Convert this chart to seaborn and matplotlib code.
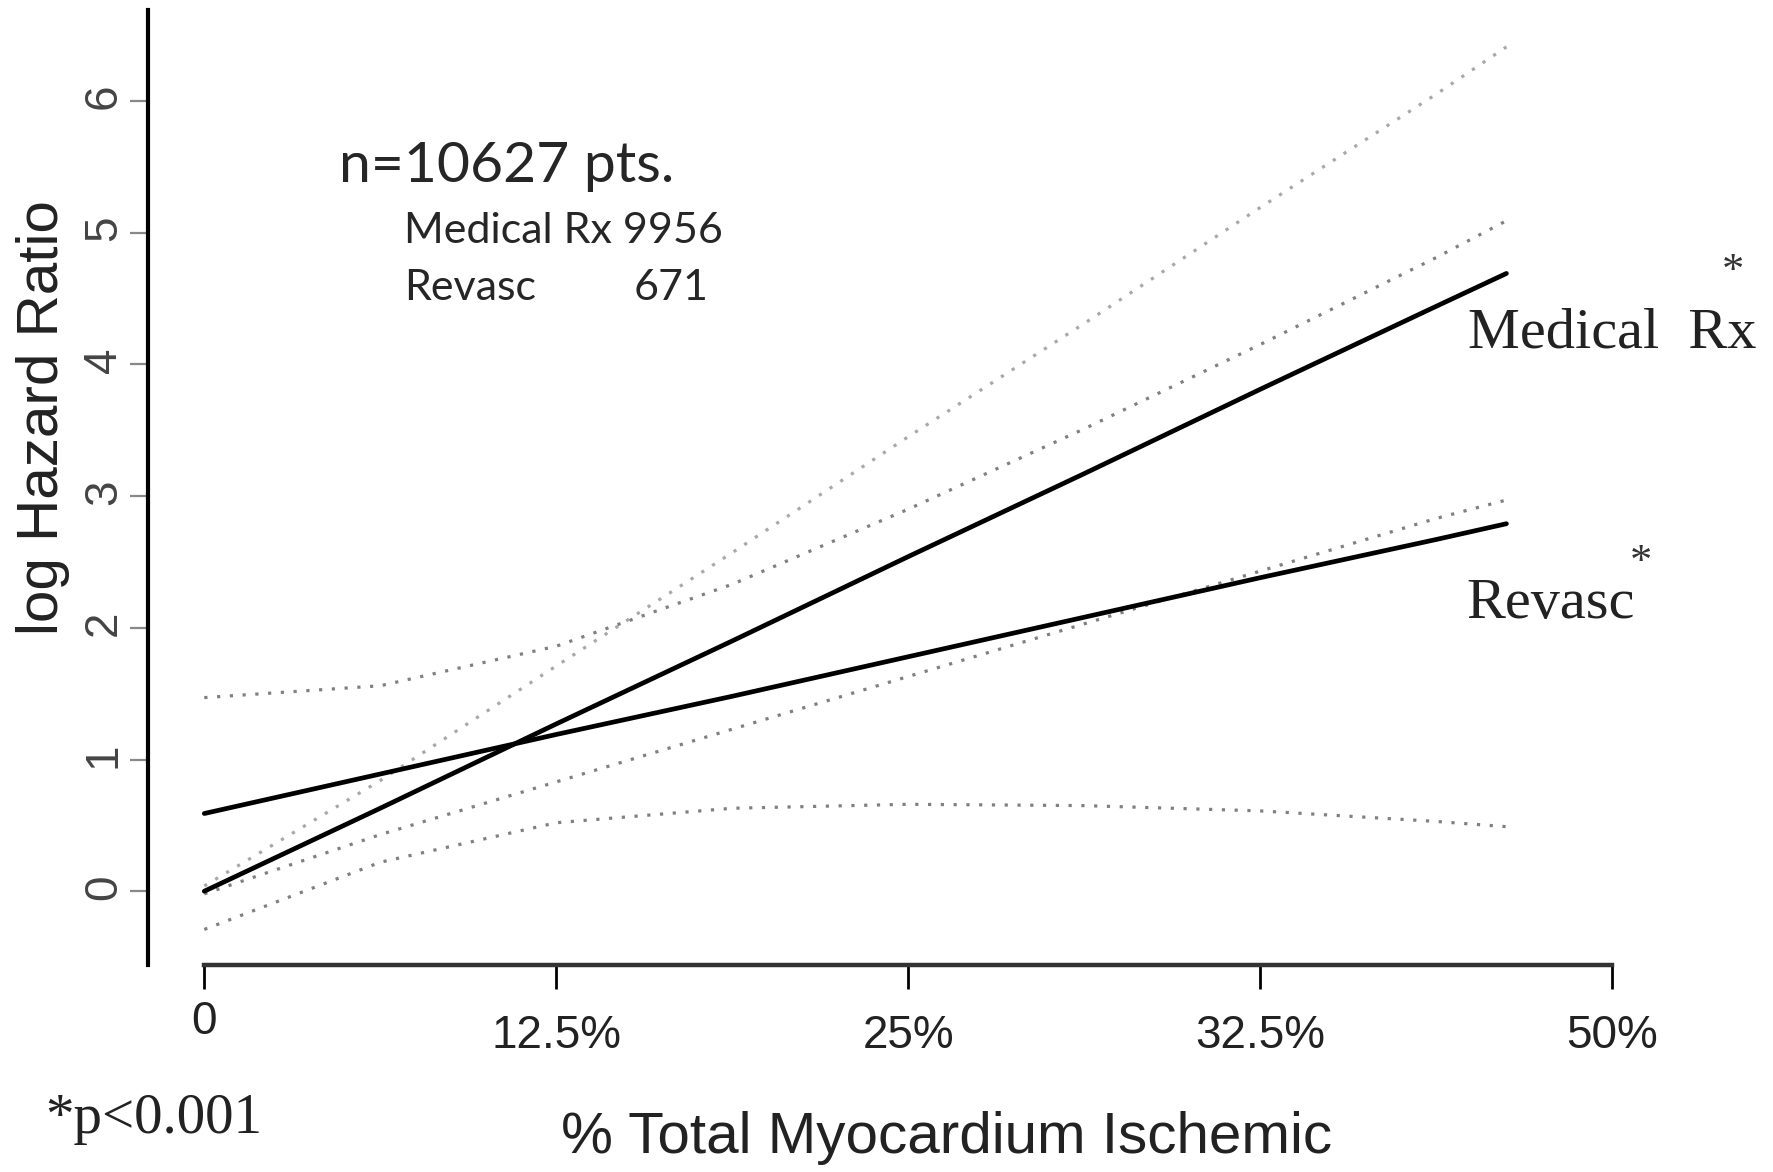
import numpy as np
import pandas as pd
import seaborn as sns
import matplotlib
matplotlib.use("Agg")
import matplotlib.pyplot as plt
from matplotlib.transforms import ScaledTranslation

# x positions are in tick units (0 .. 4 -> "0" .. "50%")
x_pos = [0, 0.5, 1, 1.5, 2, 2.5, 3, 3.5, 3.7]
tick_pos = [0, 1, 2, 3, 4]
tick_labels = ["0", "12.5%", "25%", "32.5%", "50%"]

# log hazard ratio, Medical Rx
medical = [0.00, 0.63, 1.27, 1.90, 2.54, 3.17, 3.81, 4.44, 4.69]
medical_lo = [-0.02, 0.43, 0.83, 1.23, 1.63, 2.03, 2.43, 2.83, 2.97]
medical_hi = [0.04, 0.84, 1.71, 2.57, 3.45, 4.31, 5.19, 6.05, 6.41]

# log hazard ratio, Revasc
revasc = [0.59, 0.89, 1.19, 1.48, 1.78, 2.08, 2.38, 2.67, 2.79]
revasc_lo = [-0.29, 0.22, 0.52, 0.63, 0.66, 0.65, 0.61, 0.53, 0.49]
revasc_hi = [1.47, 1.56, 1.86, 2.33, 2.90, 3.51, 4.15, 4.81, 5.09]

W, H = 1773, 1172

sns.set_theme(style="white")
plt.rcParams['font.family'] = ['Liberation Sans', 'DejaVu Sans']

def fx(x, y):
    # pixel position in the figure -> figure fraction
    return x / W, 1 - y / H

fig = plt.figure(figsize=(W / 100, H / 100), dpi=100)
ax = fig.add_axes([148 / W, 1 - 965 / H, (1612 - 148) / W, (965 - 10) / H])

dots = (0, (1, 3))
grey = "#808080"
sns.lineplot(x=x_pos, y=medical_hi, ax=ax, color="#a8a8a8", linewidth=2.3, linestyle=dots)
sns.lineplot(x=x_pos, y=medical_lo, ax=ax, color=grey, linewidth=2.3, linestyle=dots)
sns.lineplot(x=x_pos, y=revasc_hi, ax=ax, color=grey, linewidth=2.3, linestyle=dots)
sns.lineplot(x=x_pos, y=revasc_lo, ax=ax, color=grey, linewidth=2.3, linestyle=dots)
sns.lineplot(x=x_pos, y=medical, ax=ax, color="black", linewidth=3.4)
sns.lineplot(x=x_pos, y=revasc, ax=ax, color="black", linewidth=3.4)

ax.set_xlim(-0.16, 4.0)
ax.set_ylim(-0.56, 6.69)
ax.set_xticks(tick_pos)
ax.set_xticklabels(tick_labels)
ax.set_yticks(range(0, 7))
ax.set_xlabel("")
ax.set_ylabel("")

for s in ["top", "right"]:
    ax.spines[s].set_visible(False)
ax.spines["left"].set_linewidth(3)
ax.spines["left"].set_color("black")
ax.spines["bottom"].set_linewidth(3.2)
ax.spines["bottom"].set_color("#333333")
ax.spines["bottom"].set_bounds(0, 4)

ax.tick_params(axis="x", direction="out", length=17, width=2, color="black",
               labelsize=33, pad=18, labelcolor="#222222", bottom=True)
ax.tick_params(axis="y", direction="out", length=13, width=1.6, color="#888888",
               labelsize=33, pad=3, labelcolor="#444444", labelrotation=90, left=True)

# the "0" label sits a little higher than the others
lab0 = ax.get_xticklabels()[0]
lab0.set_transform(lab0.get_transform() + ScaledTranslation(0, 14 / 100, fig.dpi_scale_trans))

# axis titles
fig.text(*fx(43, 418), "log Hazard Ratio", rotation=90, ha="center", va="center",
         fontsize=42, color="#222222")
fig.text(*fx(947, 1153), "% Total Myocardium Ischemic", ha="center", va="baseline",
         fontsize=42, color="#222222")

# sample size box
fig.text(*fx(339, 182), "n=10627 pts.", fontsize=41, family=["Lato", "DejaVu Sans"],
         va="baseline", ha="left")
fig.text(*fx(404, 243), "Medical Rx 9956", fontsize=31, family=["Lato", "DejaVu Sans"],
         va="baseline", ha="left")
fig.text(*fx(404, 300), "Revasc", fontsize=31, family=["Lato", "DejaVu Sans"],
         va="baseline", ha="left")
fig.text(*fx(634, 300), "671", fontsize=31, family=["Lato", "DejaVu Sans"],
         va="baseline", ha="left")

# curve labels
serif = ["Liberation Serif", "DejaVu Serif"]
fig.text(*fx(1468, 348), "Medical  Rx", fontsize=42, family=serif, va="baseline",
         ha="left", color="#222222")
fig.text(*fx(1733, 272), "*", fontsize=32, family=serif, va="center", ha="center",
         color="#333333")
fig.text(*fx(1466, 618), "Revasc", fontsize=42, family=serif, va="baseline",
         ha="left", color="#222222")
fig.text(*fx(1641, 563), "*", fontsize=32, family=serif, va="center", ha="center",
         color="#333333")
fig.text(*fx(45, 1133), "*p<0.001", fontsize=41, family=serif, va="baseline",
         ha="left", color="#222222")

fig.savefig("out.png", dpi=100)
